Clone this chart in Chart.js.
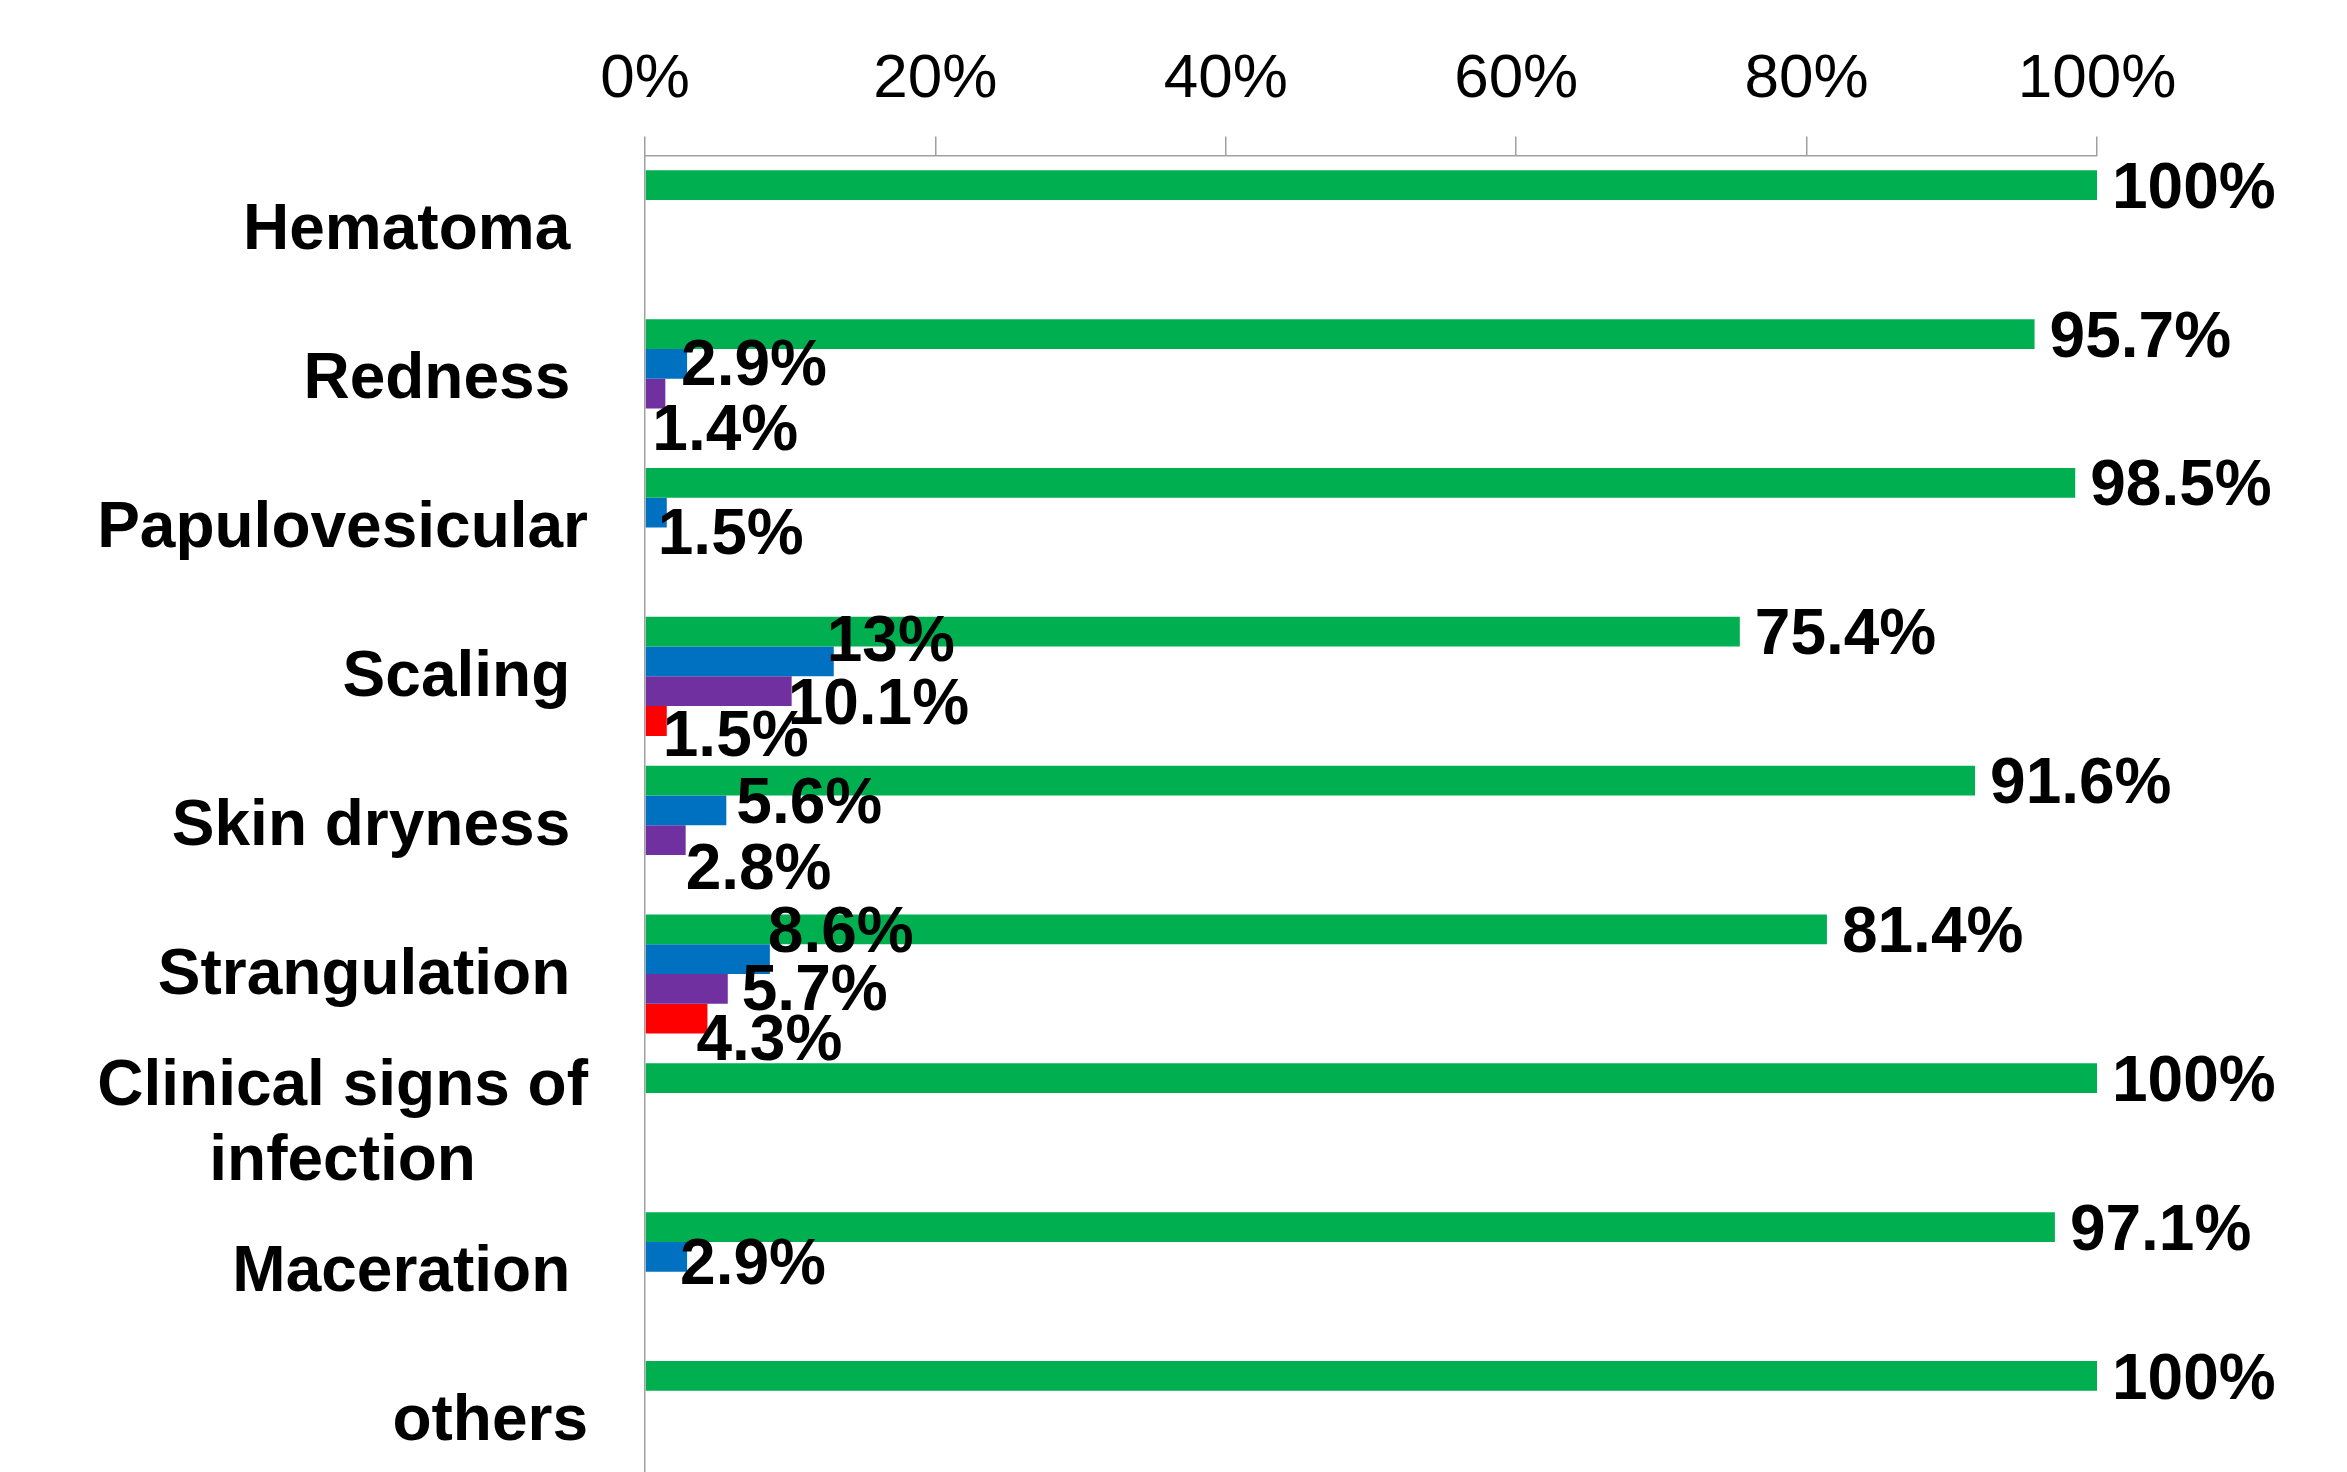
<!DOCTYPE html>
<html><head><meta charset="utf-8">
<script src="https://cdn.jsdelivr.net/npm/chart.js@4/dist/chart.umd.min.js"></script>
<style>html,body{margin:0;padding:0;background:#fff;overflow:hidden}canvas{display:block}</style>
</head><body>
<canvas id="c" width="2347" height="1496"></canvas>
<script>
// ---- data ----
const categories = ['Hematoma ', 'Redness ', 'Papulovesicular', 'Scaling ', 'Skin dryness ', 'Strangulation ', 'Clinical signs of\ninfection', 'Maceration ', 'others'];
const xTickValues = [0, 20, 40, 60, 80, 100];
const xTickLabels = ['0%', '20%', '40%', '60%', '80%', '100%'];
const seriesNames = ['Series 1', 'Series 2', 'Series 3', 'Series 4'];
const greenValues  = [100, 95.7, 98.5, 75.4, 91.6, 81.4, 100, 97.1, 100];
const blueValues   = [null, 2.9, 1.5, 13, 5.6, 8.6, null, 2.9, null];
const purpleValues = [null, 1.4, null, 10.1, 2.8, 5.7, null, null, null];
const redValues    = [null, null, null, 1.5, null, 4.3, null, null, null];

// ---- style ----
const seriesColors = ['#00B050', '#0070C0', '#7030A0', '#FF0000'];
const FONT = '"Liberation Sans", Arial, sans-serif';
// value-label nudges (px) reproducing the reference's label placement
const labelDx = [
  [15, 15, 15, 15, 15, 15, 15, 15, 15],
  [0, -6, -9, -7, 10, -2, 0, -7, 0],
  [0, -13, 0, -4, 0, 14, 0, 0, 0],
  [0, 0, 0, -4, 0, -11, 0, 0, 0]
];
const labelDy = [
  [5, 5, 5, 5, 5, 5, 5, 5, 5],
  [0, 4, 24, -18, -5, -25, 0, 10, 0],
  [0, 39, 0, 15, 31, 3, 0, 0, 0],
  [0, 0, 0, 17, 0, 24, 0, 0, 0]
];

const valueLabels = {
  id: 'valueLabels',
  afterDatasetsDraw(chart) {
    const ctx = chart.ctx;
    ctx.save();
    ctx.font = 'bold 64px ' + FONT;
    ctx.fillStyle = '#000';
    ctx.textAlign = 'left';
    ctx.textBaseline = 'middle';
    chart.data.datasets.forEach((ds, i) => {
      const meta = chart.getDatasetMeta(i);
      meta.data.forEach((bar, j) => {
        const v = ds.data[j];
        if (v === null || v === undefined) return;
        ctx.fillText(v + '%', bar.x + labelDx[i][j], bar.y + labelDy[i][j]);
      });
    });
    ctx.restore();
  }
};

const categoryLabels = {
  id: 'categoryLabels',
  afterDraw(chart) {
    const ctx = chart.ctx;
    const ys = chart.scales.y;
    const right = chart.chartArea.left - 57;
    ctx.save();
    ctx.font = 'bold 64px ' + FONT;
    ctx.fillStyle = '#000';
    ctx.textAlign = 'center';
    ctx.textBaseline = 'middle';
    chart.data.labels.forEach((lab, i) => {
      const lines = lab.split('\n');
      const w = Math.max(...lines.map(l => ctx.measureText(l).width));
      const cx = right - w / 2;
      const cy = ys.getPixelForValue(i) + 2;
      const lh = 75;
      lines.forEach((l, k) => ctx.fillText(l, cx, cy + (k - (lines.length - 1) / 2) * lh));
    });
    ctx.restore();
  }
};

const datasets = [greenValues, blueValues, purpleValues, redValues].map((vals, i) => ({
  label: seriesNames[i],
  data: vals,
  backgroundColor: seriesColors[i],
  borderWidth: 0,
  categoryPercentage: 0.8,
  barPercentage: 1.0
}));

new Chart(document.getElementById('c'), {
  type: 'bar',
  data: { labels: categories, datasets: datasets },
  options: {
    indexAxis: 'y',
    responsive: false,
    animation: false,
    devicePixelRatio: 1,
    layout: { padding: { left: 637, right: 250, top: 24, bottom: 1 } },
    plugins: { legend: { display: false }, tooltip: { enabled: false } },
    scales: {
      x: {
        position: 'top',
        min: 0, max: 100,
        afterBuildTicks: (scale) => { scale.ticks = xTickValues.map(v => ({ value: v })); },
        ticks: {
          callback: (v, i) => xTickLabels[i],
          font: { family: FONT, size: 62 },
          color: '#000',
          padding: 19,
          maxRotation: 0,
          autoSkip: false
        },
        grid: { drawOnChartArea: false, drawTicks: true, tickLength: 19, color: '#a0a0a0', lineWidth: 1.5 },
        border: { display: true, color: '#a0a0a0', width: 1.5 }
      },
      y: {
        ticks: { display: false },
        grid: { display: false },
        border: { display: true, color: '#a0a0a0', width: 1.5 }
      }
    }
  },
  plugins: [valueLabels, categoryLabels]
});
</script>
</body></html>
